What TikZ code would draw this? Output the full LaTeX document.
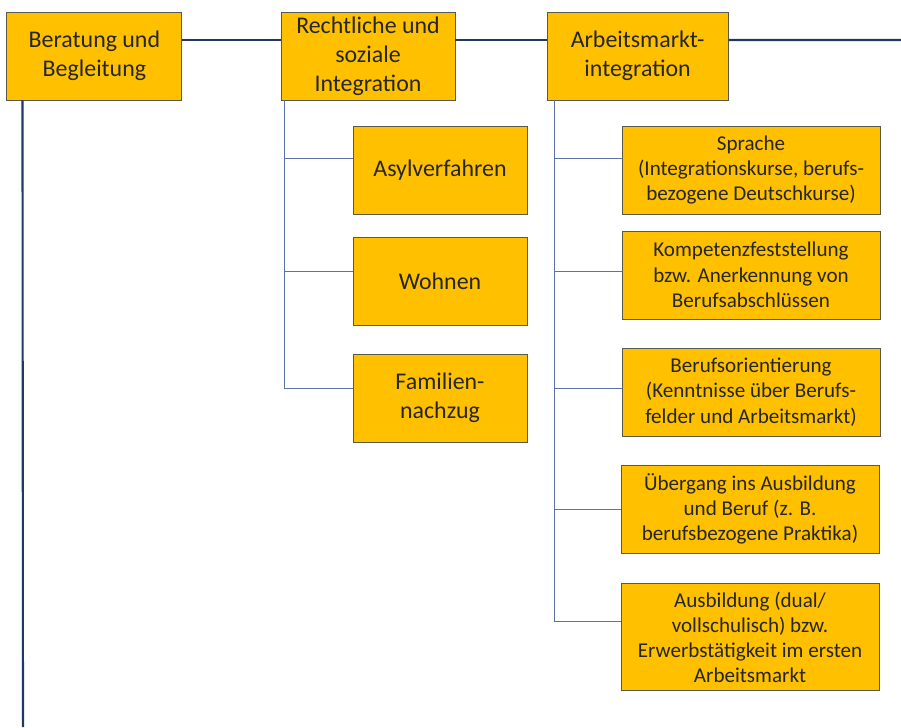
\documentclass[tikz,border=0pt]{standalone}
\usepackage{fontspec}
\setmainfont{Carlito}
\definecolor{kasten}{HTML}{FFC000}
\definecolor{rahmen}{HTML}{5A5A4A}
\definecolor{stamm}{HTML}{1F3864}
\definecolor{ast}{HTML}{5B73A6}

\begin{document}
\begin{tikzpicture}[
 feld/.style={draw=rahmen,line width=.6pt,fill=kasten,text=black!85,minimum height=2.2cm,align=center,inner sep=2pt,font=\fontsize{17}{20.6}\selectfont},
 haupt/.style={feld,minimum width=4.35cm},
 unter/.style={feld,minimum width=6.45cm,font=\fontsize{15}{18}\selectfont},
 dick/.style={draw=stamm,line width=1.5pt},
 duenn/.style={draw=ast,line width=.7pt}]
\useasboundingbox (0,0) rectangle (22.525,18.175);
\node[haupt,minimum width=4.375cm] (berat) at (2.36,16.775) {Beratung und\\Begleitung};
\node[haupt] (recht) at (9.2,16.775) {Rechtliche und\\soziale\\Integration};
\node[haupt,minimum width=4.525cm] (arbeit) at (15.94,16.775) {Arbeitsmarkt-\\integration};
\node[haupt] (asyl) at (11.0,13.925) {Asylverfahren};
\node[haupt] (wohnen) at (11.0,11.14) {Wohnen};
\node[haupt] (familie) at (11.0,8.225) {Familien-\\nachzug};
\node[unter] (sprache) at (18.775,13.925) {Sprache\\(Integrationskurse, berufs-\\bezogene Deutschkurse)};
\node[unter] (kompetenz) at (18.775,11.3) {Kompetenzfeststellung\\bzw. Anerkennung von\\Berufsabschlüssen};
\node[unter] (orient) at (18.775,8.375) {Berufsorientierung\\(Kenntnisse über Berufs-\\felder und Arbeitsmarkt)};
\node[unter] (uebergang) at (18.75,5.45) {Übergang ins Ausbildung\\und Beruf (z. B.\\berufsbezogene Praktika)};
\node[unter,minimum height=2.675cm] (ausbild) at (18.75,2.24) {Ausbildung (dual/\\vollschulisch) bzw.\\Erwerbstätigkeit im ersten\\Arbeitsmarkt};
\coordinate (rand) at (22.525,17.175);
\coordinate (unten) at (0.575,0);
\coordinate (rstamm) at ([xshift=.1cm]recht.south west);
\coordinate (astamm) at ([xshift=.2cm]arbeit.south west);
\draw[dick] ([yshift=.4cm]berat.east) -- ([yshift=.4cm]recht.west);
\draw[dick] ([yshift=.4cm]recht.east) -- ([yshift=.4cm]arbeit.west);
\draw[dick] ([yshift=.4cm]arbeit.east) -- (rand);
\draw[dick] ([xshift=.4cm]berat.south west) -- (unten);
\foreach \n/\d in {asyl/.3,wohnen/.26,familie/.23}
  \draw[duenn] (rstamm) |- ([yshift=\d cm]\n.west);
\foreach \n/\d in {sprache/.3,kompetenz/.1,orient/.08,uebergang/-.02,ausbild/.41}
  \draw[duenn] (astamm) |- ([yshift=\d cm]\n.west);
\end{tikzpicture}
\end{document}
